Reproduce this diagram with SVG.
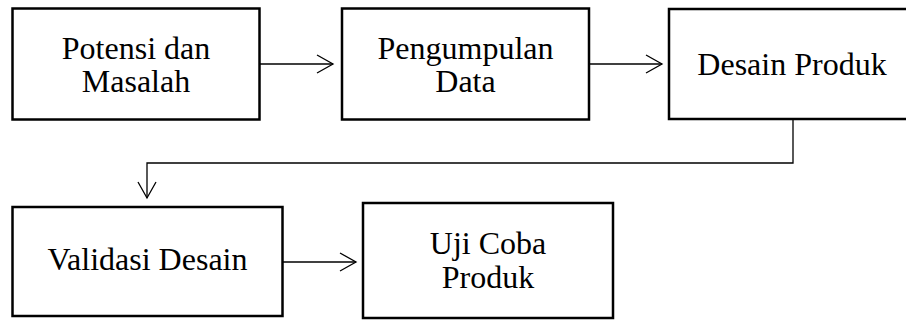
<svg xmlns="http://www.w3.org/2000/svg" width="906" height="320" viewBox="0 0 906 320">
<style>
.box{fill:#fff;stroke:#000;stroke-width:2.5}
.t{font-family:"Liberation Serif","Times New Roman",serif;font-size:32px;fill:#000;text-anchor:middle}
.c{fill:none;stroke:#000;stroke-width:1.3}
</style>
<defs>
<marker id="ah" viewBox="0 0 20 20" refX="17" refY="10" markerWidth="20" markerHeight="20" markerUnits="userSpaceOnUse" orient="auto">
<path d="M1,1 L17,10 L1,19" fill="none" stroke="#000" stroke-width="1.3"/>
</marker>
</defs>
<g id="n1"><rect class="box" x="12.5" y="8.5" width="247" height="111"/>
<text class="t" x="136" y="59">Potensi dan</text><text class="t" x="136" y="92">Masalah</text></g>
<g id="n2"><rect class="box" x="342" y="8.5" width="247" height="111"/>
<text class="t" x="465.5" y="59">Pengumpulan</text><text class="t" x="465.5" y="92">Data</text></g>
<g id="n3"><rect class="box" x="669" y="9" width="246" height="110"/>
<text class="t" x="792" y="75">Desain Produk</text></g>
<g id="n4"><rect class="box" x="12.5" y="207" width="270" height="109"/>
<text class="t" x="147.5" y="270">Validasi Desain</text></g>
<g id="n5"><rect class="box" x="363" y="203" width="250" height="115"/>
<text class="t" x="488" y="254">Uji Coba</text><text class="t" x="488" y="288">Produk</text></g>
<g id="connectors">
<path class="c" d="M260,64 H333" marker-end="url(#ah)"/>
<path class="c" d="M589,64 H662" marker-end="url(#ah)"/>
<path class="c" d="M793,119 V163 H147 V198" marker-end="url(#ah)"/>
<path class="c" d="M283,262 H356" marker-end="url(#ah)"/>
</g>
</svg>
